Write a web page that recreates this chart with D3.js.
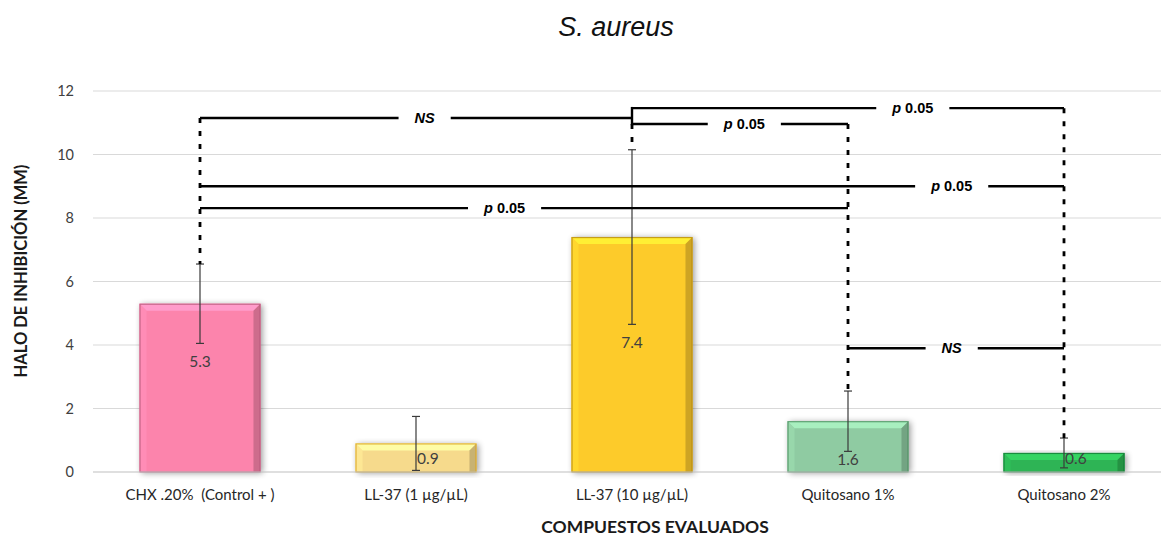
<!DOCTYPE html>
<html>
<head>
<meta charset="utf-8">
<script src="https://cdn.jsdelivr.net/npm/d3@7"></script>
<style>
  html, body { margin: 0; padding: 0; background: #fff; }
  svg { display: block; }
</style>
</head>
<body>
<svg id="chart" width="1161" height="539"></svg>
<script>
// ---------- data ----------
const categories = ["CHX .20%  (Control + )", "LL-37 (1 \u00b5g/\u00b5L)", "LL-37 (10 \u00b5g/\u00b5L)", "Quitosano 1%", "Quitosano 2%"];
const values = [5.3, 0.9, 7.4, 1.6, 0.6];
const errors = [1.25, 0.85, 2.75, 0.95, 0.47];
const barColors = ["#FC84AC", "#F6DA8C", "#FDCB2C", "#8FCBA2", "#2DB454"];
const barEdges  = ["#B85A7C", "#D9A520", "#B88A10", "#4E8E62", "#137A35"];
const yTicks = [0, 2, 4, 6, 8, 10, 12];
const titleText = "S. aureus";
const yTitle = "HALO DE INHIBICI\u00d3N (MM)";
const xTitle = "COMPUESTOS EVALUADOS";
// significance comparisons: from bar, to bar, level (mm), label
const comparisons = [
  { from: 0, to: 2, level: 11.15, label: "NS" },
  { from: 2, to: 4, level: 11.46, label: "p 0.05" },
  { from: 2, to: 3, level: 10.96, label: "p 0.05" },
  { from: 0, to: 4, level: 9.0,  label: "p 0.05" },
  { from: 0, to: 3, level: 8.31, label: "p 0.05" },
  { from: 3, to: 4, level: 3.9,  label: "NS" }
];
// label centre position along each bracket (fraction from left end)
const labelFrac = [0.52, 0.65, 0.52, 0.87, 0.47, 0.48];
// solid joins between brackets that meet on one bar (indices into comparisons)
const connectors = [{ bar: 2, a: 1, b: 2 }];

// ---------- layout ----------
const W = 1161, H = 539;
const svg = d3.select("#chart");
const plot = { left: 92, right: 1172, top: 91, bottom: 472 };

const x = d3.scaleBand().domain(d3.range(categories.length))
  .range([plot.left, plot.right]).paddingInner(0.44).paddingOuter(0.22);
const y = d3.scaleLinear().domain([0, 12]).range([plot.bottom, plot.top]);
const cx = i => x(i) + x.bandwidth() / 2;

const defs = svg.append("defs");
const f = defs.append("filter").attr("id", "shadow").attr("x", "-20%").attr("y", "-20%").attr("width", "140%").attr("height", "140%");
f.append("feGaussianBlur").attr("in", "SourceAlpha").attr("stdDeviation", 3);
f.append("feOffset").attr("dx", 2).attr("dy", 1).attr("result", "b");
f.append("feComponentTransfer").append("feFuncA").attr("type", "linear").attr("slope", 0.4);
const m = f.append("feMerge"); m.append("feMergeNode"); m.append("feMergeNode").attr("in", "SourceGraphic");

// gridlines
svg.append("g").selectAll("line").data(yTicks.filter(t => t > 0)).join("line")
  .attr("x1", plot.left + 1).attr("x2", W)
  .attr("y1", d => y(d)).attr("y2", d => y(d))
  .attr("stroke", "#D9D9D9").attr("stroke-width", 1);

// y axis labels
const yAxis = d3.axisLeft(y).tickValues(yTicks).tickSize(0).tickPadding(18);
const yg = svg.append("g").attr("transform", `translate(${plot.left},0)`).call(yAxis);
yg.select(".domain").remove();
yg.selectAll("text").attr("font-family", "Lato, 'Open Sans', sans-serif").attr("font-size", 14.5).attr("fill", "#404040");

// bars
const bars = svg.append("g").selectAll("g").data(values).join("g");
bars.each(function(v, i) {
  const g = d3.select(this);
  const x0 = x(i), w = x.bandwidth(), y0 = y(v), h = y(0) - y(v);
  const b = Math.min(7, h / 2.5);
  g.append("rect").attr("x", x0).attr("y", y0).attr("width", w).attr("height", h)
    .attr("fill", barColors[i]).attr("filter", "url(#shadow)");
  const c = d3.color(barColors[i]);
  g.append("path").attr("d", `M${x0},${y0}L${x0 + w},${y0}L${x0 + w - b},${y0 + b}L${x0 + b},${y0 + b}Z`)
    .attr("fill", c.brighter(0.5)).attr("opacity", 0.9);
  g.append("path").attr("d", `M${x0},${y0}L${x0 + b},${y0 + b}L${x0 + b},${y0 + h}L${x0},${y0 + h}Z`)
    .attr("fill", c.brighter(0.2)).attr("opacity", 0.8);
  g.append("path").attr("d", `M${x0 + w},${y0}L${x0 + w - b},${y0 + b}L${x0 + w - b},${y0 + h}L${x0 + w},${y0 + h}Z`)
    .attr("fill", c.darker(0.7)).attr("opacity", 0.85);
  g.append("rect").attr("x", x0 + 0.5).attr("y", y0 + 0.5).attr("width", w - 1).attr("height", h - 0.5)
    .attr("fill", "none").attr("stroke", barEdges[i]).attr("stroke-width", 1.2).attr("opacity", 0.8);
});

// baseline
svg.append("line").attr("x1", plot.left + 1).attr("x2", W).attr("y1", y(0)).attr("y2", y(0))
  .attr("stroke", "#BFBFBF").attr("stroke-width", 1.2);

// error bars
const eb = svg.append("g").attr("stroke", "#3A3A3A").attr("stroke-width", 1.2);
values.forEach((v, i) => {
  const lo = Math.max(0, v - errors[i]), hi = v + errors[i];
  eb.append("line").attr("x1", cx(i)).attr("x2", cx(i)).attr("y1", y(lo)).attr("y2", y(hi));
  [lo, hi].forEach(e => eb.append("line").attr("x1", cx(i) - 4).attr("x2", cx(i) + 4).attr("y1", y(e)).attr("y2", y(e)));
});

// data labels
svg.append("g").selectAll("text").data(values).join("text")
  .each(function(v, i) {
    const lo = Math.max(0, v - errors[i]);
    let ly = y(lo) + 24;
    if (ly > y(0) - 7) ly = y(0) - 7;
    const small = v < 1;
    d3.select(this).attr("x", small ? cx(i) + 1 : cx(i)).attr("y", small ? ly - 1 : ly)
      .attr("text-anchor", small ? "start" : "middle");
  })
  .attr("font-family", "Lato, 'Open Sans', sans-serif").attr("font-size", 15.5).attr("fill", "#404040")
  .text(d => d.toFixed(1));

// x tick labels
svg.append("g").selectAll("text").data(categories).join("text")
  .attr("x", (d, i) => cx(i)).attr("y", 500).attr("text-anchor", "middle")
  .attr("font-family", "Lato, 'Open Sans', sans-serif").attr("font-size", 15).attr("fill", "#262626")
  .attr("xml:space", "preserve").style("white-space", "pre")
  .text(d => d);

// significance brackets
const sig = svg.append("g");
values.forEach((v, i) => {
  const lv = comparisons.filter(c => c.from === i || c.to === i).map(c => c.level);
  if (!lv.length) return;
  const conn = connectors.filter(c => c.bar === i);
  let top = d3.max(lv);
  if (conn.length) top = d3.min(conn.flatMap(c => [comparisons[c.a].level, comparisons[c.b].level]));
  sig.append("line").attr("x1", cx(i)).attr("x2", cx(i)).attr("y1", y(top)).attr("y2", y(v + errors[i]))
    .attr("stroke", "#000").attr("stroke-width", 2.8).attr("stroke-dasharray", "5,8");
});
connectors.forEach(c => {
  sig.append("line").attr("x1", cx(c.bar)).attr("x2", cx(c.bar))
    .attr("y1", y(comparisons[c.a].level) - 1.2).attr("y2", y(comparisons[c.b].level) + 1.2)
    .attr("stroke", "#000").attr("stroke-width", 2.4);
});
comparisons.forEach((c, k) => {
  const x1 = cx(c.from), x2 = cx(c.to), yy = y(c.level);
  const lx = x1 + (x2 - x1) * labelFrac[k];
  const t = sig.append("text").attr("x", lx).attr("y", yy + 5).attr("text-anchor", "middle")
    .attr("font-family", "'Liberation Sans', Arial, sans-serif").attr("font-size", 14.5)
    .attr("font-weight", "bold").attr("fill", "#000");
  if (c.label === "NS") {
    t.attr("font-style", "italic").text("NS");
  } else {
    const [p, rest] = c.label.split(" ");
    t.append("tspan").attr("font-style", "italic").text(p);
    t.append("tspan").text("\u00a0" + rest);
  }
  const tw = t.node().getComputedTextLength();
  const gap = tw / 2 + 16;
  sig.append("line").attr("x1", x1).attr("x2", lx - gap).attr("y1", yy).attr("y2", yy)
    .attr("stroke", "#000").attr("stroke-width", 2.4);
  sig.append("line").attr("x1", lx + gap).attr("x2", x2).attr("y1", yy).attr("y2", yy)
    .attr("stroke", "#000").attr("stroke-width", 2.4);
});

// titles
svg.append("text").attr("x", 616).attr("y", 36).attr("text-anchor", "middle")
  .attr("font-family", "'Liberation Sans', Arial, sans-serif").attr("font-size", 27)
  .attr("font-style", "italic").attr("fill", "#111").text(titleText);

svg.append("text").attr("transform", `translate(27,${271}) rotate(-90)`).attr("text-anchor", "middle")
  .attr("font-family", "Lato, 'Open Sans', sans-serif").attr("font-weight", "bold").attr("font-size", 16.5)
  .attr("fill", "#1a1a1a").text(yTitle);

svg.append("text").attr("x", 655).attr("y", 533).attr("text-anchor", "middle")
  .attr("font-family", "Lato, 'Open Sans', sans-serif").attr("font-weight", "bold").attr("font-size", 17.5)
  .attr("fill", "#1a1a1a").text(xTitle);
</script>
</body>
</html>
